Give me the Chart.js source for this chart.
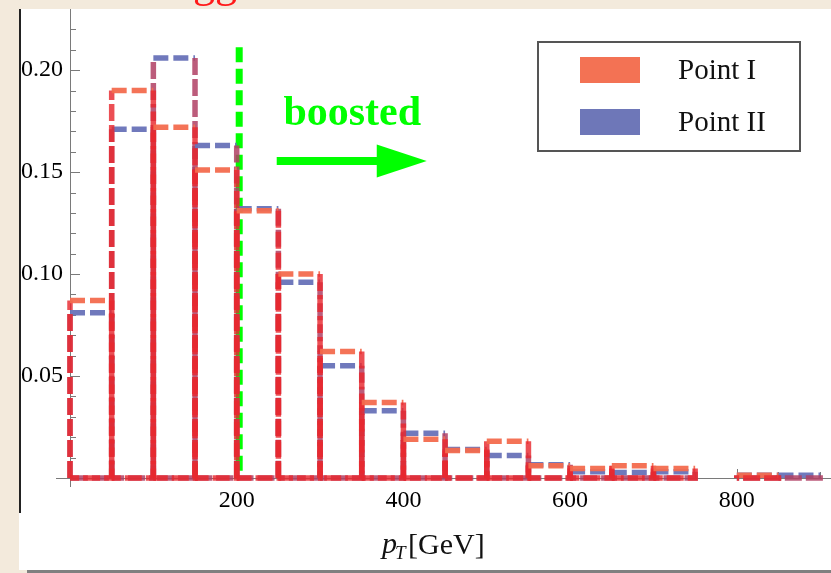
<!DOCTYPE html>
<html>
<head>
<meta charset="utf-8">
<script src="https://cdn.jsdelivr.net/npm/chart.js@4.4.1/dist/chart.umd.min.js"></script>
<style>
  html, body { margin: 0; padding: 0; background: #F3EADC; }
  #wrap { width: 831px; height: 573px; }
</style>
</head>
<body>
<div id="wrap"><canvas id="ptChart" width="831" height="573"></canvas></div>
<script>
// bin edges in GeV (50 GeV bins)
const binEdges = [0, 50, 100, 150, 200, 250, 300, 350, 400, 450, 500, 550, 600, 650, 700, 750, 800, 850, 900];

// normalised pT distributions
const pointI  = [0.087, 0.190, 0.172, 0.151, 0.131, 0.100, 0.062, 0.037, 0.019, 0.0135, 0.018, 0.0060, 0.0047, 0.0060, 0.0047, 0, 0.0013, 0];
const pointII = [0.081, 0.171, 0.206, 0.163, 0.132, 0.096, 0.055, 0.033, 0.022, 0.0140, 0.011, 0.0065, 0.0031, 0.0027, 0.0031, 0, 0.0013, 0.0013];

const seriesNames = ["Point I", "Point II"];

// tick labels
const xTickValues = [200, 400, 600, 800];
const yTickValues = [0.05, 0.10, 0.15, 0.20];

// boosted cut line
const cutX = 203;
const cutRange = [0.0036, 0.2136];

const colI = "#F37254";
const colII = "#6E77B8";
const serif = "'Liberation Serif', 'Times New Roman', serif";

// each bin drawn as its own closed dashed rectangle
function binOutline(values) {
    const pts = [];
    values.forEach((v, i) => {
        if (!v) return;
        const lo = binEdges[i], hi = binEdges[i + 1];
        pts.push({x: lo, y: 0}, {x: lo, y: v}, {x: hi, y: v}, {x: hi, y: 0}, {x: lo, y: 0}, {x: hi, y: null});
    });
    return pts;
}

function isTop(c) {
    return c.p0.parsed.y === c.p1.parsed.y && c.p0.parsed.y > 0;
}

function histDataset(label, values, topColor, edgeColor) {
    return {
        label: label,
        data: binOutline(values),
        borderColor: topColor,
        borderWidth: 5.5,
        borderDash: [15, 5],
        pointRadius: 0,
        tension: 0,
        fill: false,
        spanGaps: false,
        clip: 8,
        segment: {
            borderColor: c => isTop(c) ? topColor : edgeColor,
            borderDash: c => isTop(c) ? [15, 5] : [17, 4]
        }
    };
}

const decorPlugin = {
    id: "decor",
    beforeDraw(chart) {
        const ctx = chart.ctx;
        ctx.save();
        // screenshot frame
        ctx.fillStyle = "#F3EADC";
        ctx.fillRect(0, 0, 831, 573);
        ctx.fillStyle = "#FFFFFF";
        ctx.fillRect(19, 9, 812, 561);
        ctx.fillStyle = "#808080";
        ctx.fillRect(27, 570, 804, 3);
        ctx.fillStyle = "#222";
        ctx.fillRect(19, 9, 2, 504);
        // clipped red label above the panel
        ctx.fillStyle = "#FF1A1A";
        ctx.font = "44px " + serif;
        ctx.textBaseline = "alphabetic";
        ctx.fillText("gg", 193, -3);
        ctx.restore();
    },
    beforeDatasetsDraw(chart) {
        const ctx = chart.ctx;
        const xs = chart.scales.x, ys = chart.scales.y;
        const x0 = xs.getPixelForValue(0), y0 = ys.getPixelForValue(0);
        ctx.save();
        ctx.strokeStyle = "#7A7A7A";
        ctx.lineWidth = 1;
        ctx.beginPath();
        ctx.moveTo(x0 - 14, y0 + 0.5);
        ctx.lineTo(x0, y0 + 0.5);
        ctx.moveTo(x0 + 0.5, y0);
        ctx.lineTo(x0 + 0.5, y0 + 9);
        // y ticks, pointing inward
        for (let k = 1; k <= 22; k++) {
            const py = Math.round(ys.getPixelForValue(k / 100)) + 0.5;
            const len = k % 5 === 0 ? 10 : 6;
            ctx.moveTo(x0, py);
            ctx.lineTo(x0 + len, py);
        }
        // x ticks, pointing up
        for (let v = 50; v <= 900; v += 50) {
            const px = Math.round(xs.getPixelForValue(v)) + 0.5;
            const len = v % 200 === 0 ? 9 : 6;
            ctx.moveTo(px, y0);
            ctx.lineTo(px, y0 - len);
        }
        ctx.stroke();
        ctx.restore();
    },
    afterDraw(chart) {
        const ctx = chart.ctx;
        const xs = chart.scales.x, ys = chart.scales.y;
        ctx.save();

        // boosted arrow
        const ay = ys.getPixelForValue(0.1555);
        const ax0 = xs.getPixelForValue(248);
        const axHead = xs.getPixelForValue(368);
        const axTip = xs.getPixelForValue(428);
        ctx.strokeStyle = "#00FF00";
        ctx.fillStyle = "#00FF00";
        ctx.lineWidth = 8;
        ctx.beginPath();
        ctx.moveTo(ax0, ay);
        ctx.lineTo(axHead + 4, ay);
        ctx.stroke();
        ctx.beginPath();
        ctx.moveTo(axHead, ay - 16.5);
        ctx.lineTo(axTip, ay);
        ctx.lineTo(axHead, ay + 16.5);
        ctx.closePath();
        ctx.fill();

        ctx.font = "bold 42px " + serif;
        ctx.textBaseline = "alphabetic";
        ctx.textAlign = "left";
        ctx.fillText("boosted", xs.getPixelForValue(256), ys.getPixelForValue(0.173));

        // legend
        ctx.fillStyle = "#FFFFFF";
        ctx.fillRect(538, 42, 262, 109);
        ctx.strokeStyle = "#555555";
        ctx.lineWidth = 2;
        ctx.strokeRect(538, 42, 262, 109);
        const swatches = [colI, colII];
        ctx.font = "29px " + serif;
        ctx.textBaseline = "middle";
        seriesNames.forEach((name, i) => {
            const cy = 70 + i * 52;
            ctx.fillStyle = swatches[i];
            ctx.fillRect(580, cy - 13, 60, 26);
            ctx.fillStyle = "#111";
            ctx.fillText(name, 678, cy + 1);
        });

        // x axis title p_T[GeV]
        ctx.fillStyle = "#111";
        ctx.textBaseline = "alphabetic";
        ctx.font = "italic 30px " + serif;
        ctx.fillText("p", 382, 553);
        ctx.font = "italic 19px " + serif;
        ctx.fillText("T", 395, 559);
        ctx.font = "30px " + serif;
        ctx.fillText("[GeV]", 408, 554);
        ctx.restore();
    }
};

const tickFont = {family: "'Liberation Serif', serif", size: 24};

new Chart(document.getElementById("ptChart").getContext("2d"), {
    type: "line",
    data: {
        datasets: [
            histDataset(seriesNames[0], pointI, "rgba(243,108,78,0.95)", "rgba(232,40,46,0.82)"),
            histDataset(seriesNames[1], pointII, "rgba(104,114,184,0.95)", "rgba(176,64,100,0.85)"),
            {
                label: "cut",
                data: [{x: cutX, y: cutRange[0]}, {x: cutX, y: cutRange[1]}],
                borderColor: "#00FF00",
                borderWidth: 7,
                borderDash: [15, 6.5],
                pointRadius: 0,
                fill: false
            }
        ]
    },
    options: {
        responsive: false,
        animation: false,
        devicePixelRatio: 1,
        layout: {padding: {left: 20, top: 9, right: 0, bottom: 65}},
        plugins: {
            legend: {display: false},
            tooltip: {enabled: false}
        },
        scales: {
            x: {
                type: "linear",
                min: 0,
                max: 913,
                grid: {display: false, drawTicks: false},
                border: {display: true, color: "#7A7A7A", width: 1},
                ticks: {font: tickFont, color: "#000", padding: 8, maxRotation: 0, autoSkip: false},
                afterBuildTicks: s => { s.ticks = xTickValues.map(v => ({value: v})); },
                afterFit: s => { s.height = 30; s.paddingLeft = 0; s.paddingRight = 0; }
            },
            y: {
                type: "linear",
                min: 0,
                max: 0.23,
                grid: {display: false, drawTicks: false},
                border: {display: true, color: "#7A7A7A", width: 1},
                ticks: {font: tickFont, color: "#000", padding: 7, autoSkip: false, callback: v => v.toFixed(2)},
                afterBuildTicks: s => { s.ticks = yTickValues.map(v => ({value: v})); },
                afterFit: s => { s.width = 50; s.paddingTop = 0; s.paddingBottom = 0; }
            }
        }
    },
    plugins: [decorPlugin]
});
</script>
</body>
</html>
